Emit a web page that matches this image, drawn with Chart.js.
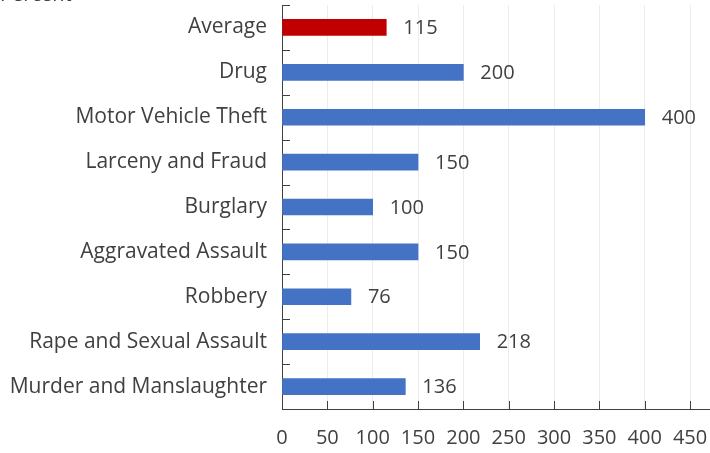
<!DOCTYPE html>
<html>
<head>
<meta charset="utf-8">
<script src="https://cdn.jsdelivr.net/npm/chart.js@4.4.1/dist/chart.umd.min.js"></script>
<style>
  html, body { margin: 0; padding: 0; background: #fff; }
  #wrap { width: 710px; height: 453px; position: relative; }
</style>
</head>
<body>
<div id="wrap"><canvas id="chart"></canvas></div>
<script>
// data
const categories = ['Average', 'Drug', 'Motor Vehicle Theft', 'Larceny and Fraud', 'Burglary',
  'Aggravated Assault', 'Robbery', 'Rape and Sexual Assault', 'Murder and Manslaughter'];
const values = [115, 200, 400, 150, 100, 150, 76, 218, 136];
const barColors = ['#c00000', '#4472c4', '#4472c4', '#4472c4', '#4472c4', '#4472c4', '#4472c4', '#4472c4', '#4472c4'];
const xTicks = [0, 50, 100, 150, 200, 250, 300, 350, 400, 450];

const FONT = '"Open Sans", sans-serif';
const TEXT = '#404040';

// inward tick marks, value labels and the clipped "Percent" title
const extras = {
  id: 'extras',
  afterDraw(chart) {
    const ctx = chart.ctx;
    const x = chart.scales.x, y = chart.scales.y;
    ctx.save();
    ctx.strokeStyle = '#404040';
    ctx.lineWidth = 1;
    // y ticks at category boundaries
    const half = (y.getPixelForValue(1) - y.getPixelForValue(0)) / 2;
    for (let i = 0; i <= categories.length; i++) {
      const py = Math.round(y.getPixelForValue(i) - half) + 0.5;
      ctx.beginPath();
      ctx.moveTo(x.left, py);
      ctx.lineTo(x.left + 8, py);
      ctx.stroke();
    }
    // x ticks
    xTicks.forEach(v => {
      const px = Math.round(x.getPixelForValue(v)) + 0.5;
      ctx.beginPath();
      ctx.moveTo(px, y.bottom);
      ctx.lineTo(px, y.bottom - 8);
      ctx.stroke();
    });
    // value labels
    ctx.fillStyle = TEXT;
    ctx.font = '20px ' + FONT;
    ctx.textBaseline = 'middle';
    ctx.textAlign = 'left';
    values.forEach((v, i) => {
      ctx.fillText(String(v), x.getPixelForValue(v) + 17, y.getPixelForValue(i) + 1);
    });
    // title, mostly cut off at top
    ctx.textBaseline = 'bottom';
    ctx.fillText('Percent', 0, 5);
    ctx.restore();
  }
};

new Chart(document.getElementById('chart'), {
  type: 'bar',
  data: {
    labels: categories,
    datasets: [{
      data: values,
      backgroundColor: barColors,
      barThickness: 16
    }]
  },
  options: {
    indexAxis: 'y',
    responsive: true,
    maintainAspectRatio: false,
    animation: false,
    layout: { padding: { top: 5, right: 0, left: 0, bottom: 0 } },
    plugins: { legend: { display: false }, tooltip: { enabled: false } },
    scales: {
      x: {
        min: 0,
        max: 472,
        afterBuildTicks(scale) { scale.ticks = xTicks.map(v => ({ value: v })); },
        afterFit(scale) {
          scale.height = 44;
          scale.paddingLeft = 0;
          scale.paddingRight = 0;
        },
        grid: { color: '#ececec', drawTicks: false },
        border: { color: '#404040', width: 1 },
        ticks: { color: TEXT, font: { family: FONT, size: 20 }, padding: 17, maxRotation: 0 }
      },
      y: {
        afterFit(scale) {
          scale.width = 282;
          scale.paddingTop = 0;
          scale.paddingBottom = 0;
        },
        grid: { display: false, drawTicks: false },
        border: { color: '#404040', width: 1 },
        ticks: { color: TEXT, font: { family: FONT, size: 21 }, padding: 15 }
      }
    }
  },
  plugins: [extras]
});
</script>
</body>
</html>
